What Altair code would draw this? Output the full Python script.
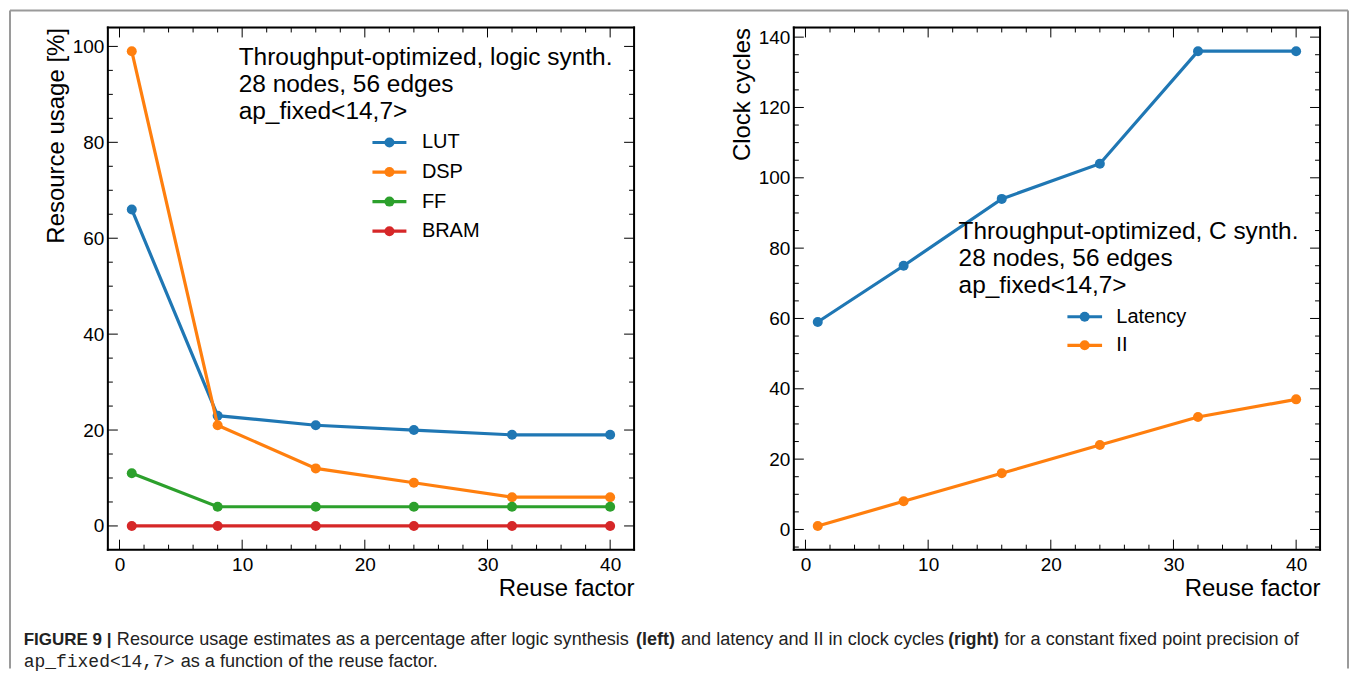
import altair as alt
import pandas as pd

FONT = "Liberation Sans"
MONO = "Liberation Mono"

# ---------------- data ----------------
reuse_factor = [1, 8, 16, 24, 32, 40]

lut = [66, 23, 21, 20, 19, 19]
dsp = [99, 21, 12, 9, 6, 6]
ff = [11, 4, 4, 4, 4, 4]
bram = [0, 0, 0, 0, 0, 0]

latency = [59, 75, 94, 104, 136, 136]
ii = [1, 8, 16, 24, 32, 37]

left_names = ["LUT", "DSP", "FF", "BRAM"]
left_values = [lut, dsp, ff, bram]
left_colors = ["#1f77b4", "#ff7f0e", "#2ca02c", "#d62728"]

right_names = ["Latency", "II"]
right_values = [latency, ii]
right_colors = ["#1f77b4", "#ff7f0e"]

x_major = [0, 10, 20, 30, 40]
x_minor = [2, 4, 6, 8, 12, 14, 16, 18, 22, 24, 26, 28, 32, 34, 36, 38]
left_y_major = [0, 20, 40, 60, 80, 100]
left_y_minor = [5, 10, 15, 25, 30, 35, 45, 50, 55, 65, 70, 75, 85, 90, 95]
right_y_major = [0, 20, 40, 60, 80, 100, 120, 140]
right_y_minor = [-5, 5, 10, 15, 25, 30, 35, 45, 50, 55, 65, 70, 75, 85, 90, 95,
                 105, 110, 115, 125, 130, 135]

left_annot = ["Throughput-optimized, logic synth.", "28 nodes, 56 edges", "ap_fixed<14,7>"]
right_annot = ["Throughput-optimized, C synth.", "28 nodes, 56 edges", "ap_fixed<14,7>"]

caption_line1 = ["FIGURE 9 |", "Resource usage estimates as a percentage after logic synthesis",
                 "(left)", "and latency and II in clock cycles", "(right)",
                 "for a constant fixed point precision of"]
caption_line1_bold = [True, False, True, False, True, False]
caption_line2 = ["ap_fixed<14,7>", "as a function of the reuse factor."]

# ---------------- layout ----------------
W, H = 527, 523
X_DOMAIN = [-0.95, 41.95]
LEFT_Y_DOMAIN = [-4.95, 103.95]
RIGHT_Y_DOMAIN = [-5.75, 142.75]
ORIGIN_X, ORIGIN_Y = 107.0, 26.0   # page position of the left plot area

one = pd.DataFrame({"k": [0]})


def make_axes(ytitle, yvalues):
    xaxis = alt.Axis(values=x_major, title="Reuse factor", titleAnchor="end",
                     titleFontSize=24, titleFontWeight="normal", titleColor="black",
                     titleFont=FONT, labelFont=FONT, labelFontSize=19, labelColor="black",
                     labelPadding=6, titlePadding=2, ticks=False, domain=False, grid=False,
                     labelFlush=False, labelOverlap=False)
    yaxis = alt.Axis(values=yvalues, title=ytitle, titleAnchor="end", titleFontSize=24,
                     titleFontWeight="normal", titleColor="black", titleFont=FONT,
                     labelFont=FONT, labelFontSize=19, labelColor="black", labelPadding=4,
                     titlePadding=4, ticks=False, domain=False, grid=False,
                     labelFlush=False, labelOverlap=False)
    return xaxis, yaxis


def tick_layers(xscale, yscale, xaxis, yaxis, ymaj, ymin):
    layers = []
    for vals, length in ((x_major, 10), (x_minor, 5)):
        d = pd.DataFrame({"v": vals})
        xe = alt.X("v:Q", scale=xscale, axis=xaxis)
        layers.append(alt.Chart(d).mark_rule(color="black", strokeWidth=1).encode(
            x=xe, y=alt.value(H), y2=alt.value(H - length)))
        layers.append(alt.Chart(d).mark_rule(color="black", strokeWidth=1).encode(
            x=xe, y=alt.value(0), y2=alt.value(length)))
    for vals, length in ((ymaj, 10), (ymin, 5)):
        d = pd.DataFrame({"v": vals})
        ye = alt.Y("v:Q", scale=yscale, axis=yaxis)
        layers.append(alt.Chart(d).mark_rule(color="black", strokeWidth=1).encode(
            y=ye, x=alt.value(0), x2=alt.value(length)))
        layers.append(alt.Chart(d).mark_rule(color="black", strokeWidth=1).encode(
            y=ye, x=alt.value(W - length), x2=alt.value(W)))
    return layers


def frame_layers():
    st = dict(color="black", strokeWidth=2)
    return [
        alt.Chart(one).mark_rule(**st).encode(x=alt.value(0), y=alt.value(-1), y2=alt.value(H + 1)),
        alt.Chart(one).mark_rule(**st).encode(x=alt.value(W), y=alt.value(-1), y2=alt.value(H + 1)),
        alt.Chart(one).mark_rule(**st).encode(y=alt.value(0), x=alt.value(-1), x2=alt.value(W + 1)),
        alt.Chart(one).mark_rule(**st).encode(y=alt.value(H), x=alt.value(-1), x2=alt.value(W + 1)),
    ]


def series_layers(values, colors, xscale, yscale, xaxis, yaxis):
    layers = []
    for ys, col in zip(values, colors):
        d = pd.DataFrame({"x": reuse_factor, "y": ys})
        base = alt.Chart(d).encode(x=alt.X("x:Q", scale=xscale, axis=xaxis),
                                   y=alt.Y("y:Q", scale=yscale, axis=yaxis))
        layers.append(base.mark_line(color=col, strokeWidth=3.2))
        layers.append(base.mark_point(color=col, filled=True, size=100, opacity=1))
    return layers


def annot_layers(lines, x0, y0, fs, step=27):
    out = []
    for i, line in enumerate(lines):
        out.append(alt.Chart(one).mark_text(text=line, font=FONT, fontSize=fs, align="left",
                                            baseline="alphabetic", color="black").encode(
            x=alt.value(x0), y=alt.value(y0 + i * step)))
    return out


def legend_layers(names, colors, lx0, lx1, px, tx, y0, step):
    out = []
    for i, (nm, col) in enumerate(zip(names, colors)):
        yy = y0 + i * step
        out.append(alt.Chart(one).mark_rule(color=col, strokeWidth=3.2).encode(
            x=alt.value(lx0), x2=alt.value(lx1), y=alt.value(yy)))
        out.append(alt.Chart(one).mark_point(color=col, filled=True, size=100, opacity=1).encode(
            x=alt.value(px), y=alt.value(yy)))
        out.append(alt.Chart(one).mark_text(text=nm, font=FONT, fontSize=20, align="left",
                                            baseline="middle", color="black").encode(
            x=alt.value(tx), y=alt.value(yy)))
    return out


# ---------------- left panel ----------------
xs_l = alt.Scale(domain=X_DOMAIN, nice=False, zero=False)
ys_l = alt.Scale(domain=LEFT_Y_DOMAIN, nice=False, zero=False)
xa_l, ya_l = make_axes("Resource usage [%]", left_y_major)

left_layers = (series_layers(left_values, left_colors, xs_l, ys_l, xa_l, ya_l)
               + tick_layers(xs_l, ys_l, xa_l, ya_l, left_y_major, left_y_minor)
               + frame_layers()
               + annot_layers(left_annot, 131.0, 38, 24.5)
               + legend_layers(left_names, left_colors, 265.0, 299.0, 282.0, 314.5, 115.2, 29.6))

# figure border (page coords -> left panel coords); kept inside the window width
bx0, bx1 = 9.0 - ORIGIN_X, 1349.0 - ORIGIN_X
by0, by1 = 9.0 - ORIGIN_Y, 668.0 - ORIGIN_Y
bst = dict(color="#9a9a9a", strokeWidth=2)
border = [
    alt.Chart(one).mark_rule(**bst).encode(x=alt.value(bx0), x2=alt.value(bx1), y=alt.value(by0)),
    alt.Chart(one).mark_rule(**bst).encode(x=alt.value(bx0), y=alt.value(by0), y2=alt.value(by1)),
    alt.Chart(one).mark_rule(**bst).encode(x=alt.value(bx1), y=alt.value(by0), y2=alt.value(by1)),
]

# caption
cap1_x = [22.7, 116.0, 636.0, 681.0, 948.7, 1005.0]
cap1_size = [17, 18.1, 18, 18.1, 17.5, 18.1]
cap_layers = []
for txt, bold, px, fs in zip(caption_line1, caption_line1_bold, cap1_x, cap1_size):
    cap_layers.append(alt.Chart(one).mark_text(
        text=txt, font=FONT, fontSize=fs, fontWeight=("bold" if bold else "normal"),
        align="left", baseline="alphabetic", color="#222222").encode(
        x=alt.value(px - ORIGIN_X), y=alt.value(644 - ORIGIN_Y)))
cap_layers.append(alt.Chart(one).mark_text(
    text=caption_line2[0], font=MONO, fontSize=18, align="left", baseline="alphabetic",
    color="#222222").encode(x=alt.value(22.7 - ORIGIN_X), y=alt.value(666 - ORIGIN_Y)))
cap_layers.append(alt.Chart(one).mark_text(
    text=caption_line2[1], font=FONT, fontSize=18.1, align="left", baseline="alphabetic",
    color="#222222").encode(x=alt.value(180.0 - ORIGIN_X), y=alt.value(666 - ORIGIN_Y)))

left = alt.layer(*(left_layers + border + cap_layers)).properties(width=W, height=H)

# ---------------- right panel ----------------
xs_r = alt.Scale(domain=X_DOMAIN, nice=False, zero=False)
ys_r = alt.Scale(domain=RIGHT_Y_DOMAIN, nice=False, zero=False)
xa_r, ya_r = make_axes("Clock cycles", right_y_major)

right_layers = (series_layers(right_values, right_colors, xs_r, ys_r, xa_r, ya_r)
                + tick_layers(xs_r, ys_r, xa_r, ya_r, right_y_major, right_y_minor)
                + frame_layers()
                + annot_layers(right_annot, 165.0, 212, 24.4)
                + legend_layers(right_names, right_colors, 274.0, 308.7, 291.3, 323.0, 289.7, 28.6))

right = alt.layer(*right_layers).properties(width=W, height=H)

chart = (alt.hconcat(left, right, spacing=160, bounds="flush")
         .resolve_scale(x="independent", y="independent")
         .properties(padding=0, background="white")
         .configure_view(stroke="#000000", strokeWidth=2, strokeOpacity=1)
         .configure(font=FONT))

chart.save("out.html", embed_options={"renderer": "svg", "actions": False})
